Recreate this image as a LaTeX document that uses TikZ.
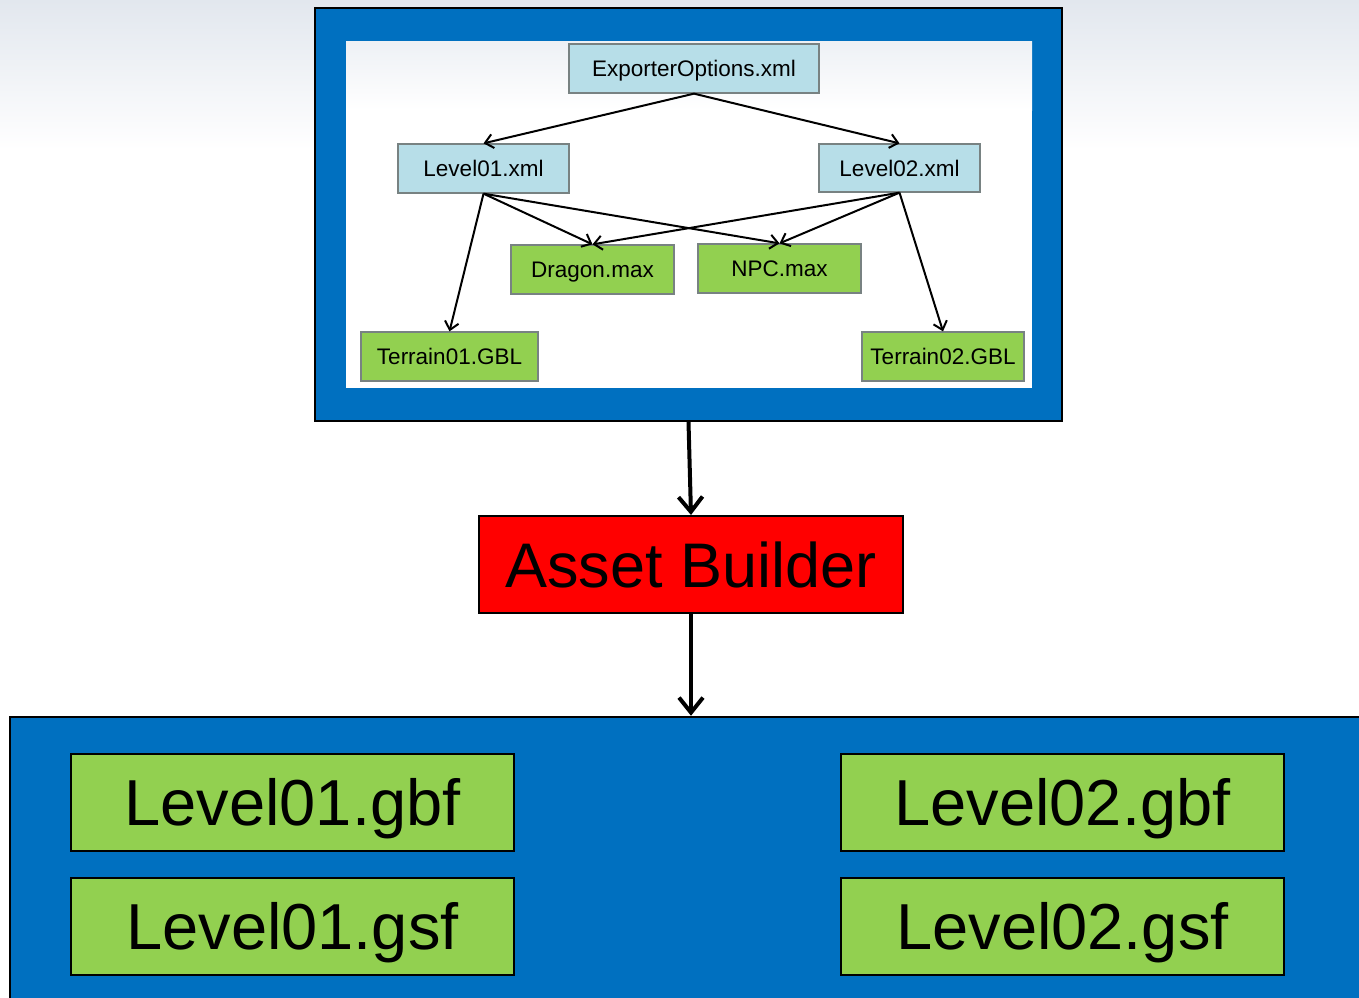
\documentclass[tikz,border=0pt]{standalone}
\usepackage{fontspec}
\setmainfont{Liberation Sans}
\usetikzlibrary{arrows.meta}
\definecolor{bgblue}{HTML}{0070C0}
\definecolor{leaf}{HTML}{92D050}
\definecolor{pale}{HTML}{B7DEE8}
\definecolor{haze}{RGB}{226,231,238}
\tikzset{
  smallbox/.style={draw={rgb,255:red,120;green,130;blue,130}, line width=1.3pt, inner sep=0pt, text height=16pt, text depth=0pt, font=\fontsize{22.5}{26}\selectfont},
  xmlbox/.style={smallbox, fill=pale},
  maxbox/.style={smallbox, fill=leaf},
  bigbox/.style={draw=black, line width=2.5pt, fill=leaf, inner sep=0pt, text height=46.5pt, text depth=0pt, minimum width=443pt, minimum height=97pt, font=\fontsize{65}{70}\selectfont},
  thinarrow/.style={line width=2pt, -{Straight Barb[length=8pt,width=14pt]}},
  thickarrow/.style={line width=4pt, -{Straight Barb[length=15pt,width=24pt]}},
}
\begin{document}
\begin{tikzpicture}[x=1pt,y=-1pt]
\useasboundingbox (0,0) rectangle (1359,997);
\fill[white] (0,0) rectangle (1359,997);
\shade[top color=haze, bottom color=white] (0,0) rectangle (1359,150);
% top container
\node[draw=black, line width=2pt, fill=bgblue, minimum width=747pt, minimum height=413pt, inner sep=0pt] (top) at (688.5,214.5) {};
\node[fill=white, minimum width=686pt, minimum height=347pt, inner sep=0pt] (inner) at (689,214.5) {};
\shade[top color=haze!60, bottom color=white] (346,41) rectangle (1032,110);
% xml / asset nodes
\node[xmlbox, minimum width=250pt, minimum height=49pt] (exp) at (694,68.5) {ExporterOptions.xml};
\node[xmlbox, minimum width=171pt, minimum height=49pt] (l1x) at (483.5,168.5) {Level01.xml};
\node[xmlbox, minimum width=161pt, minimum height=48pt] (l2x) at (899.5,168) {Level02.xml};
\node[maxbox, minimum width=163pt, minimum height=49pt] (dragon) at (592.5,269.5) {Dragon.max};
\node[maxbox, minimum width=163pt, minimum height=49pt] (npc) at (779.5,268.5) {NPC.max};
\node[maxbox, minimum width=177pt, minimum height=49pt] (t1) at (449.5,356.5) {Terrain01.GBL};
\node[maxbox, minimum width=162pt, minimum height=49pt] (t2) at (943,356.5) {Terrain02.GBL};
\draw[thinarrow] (exp.south) -- (l1x.north);
\draw[thinarrow] (exp.south) -- (l2x.north);
\draw[thinarrow] (l1x.south) -- (dragon.north);
\draw[thinarrow] (l1x.south) -- (npc.north);
\draw[thinarrow] (l1x.south) -- (t1.north);
\draw[thinarrow] (l2x.south) -- (dragon.north);
\draw[thinarrow] (l2x.south) -- (npc.north);
\draw[thinarrow] (l2x.south) -- (t2.north);
% asset builder
\node[draw=black, line width=2pt, fill=red, minimum width=424pt, minimum height=97pt, inner sep=0pt, text height=45pt, text depth=0pt, font=\fontsize{63}{70}\selectfont] (ab) at (691,564.5) {Asset Builder};
\draw[thickarrow] (top.south) -- (ab.north);
% output container
\node[draw=black, line width=2.5pt, fill=bgblue, minimum width=1380pt, minimum height=293pt, inner sep=0pt] (out) at (700,863.5) {};
\draw[thickarrow] (ab.south) -- (ab.south |- out.north);
\node[bigbox] (g1) at (292.5,802.5) {Level01.gbf};
\node[bigbox] (s1) at (292.5,926.5) {Level01.gsf};
\node[bigbox] (g2) at (1062.5,802.5) {Level02.gbf};
\node[bigbox] (s2) at (1062.5,926.5) {Level02.gsf};
\end{tikzpicture}
\end{document}
